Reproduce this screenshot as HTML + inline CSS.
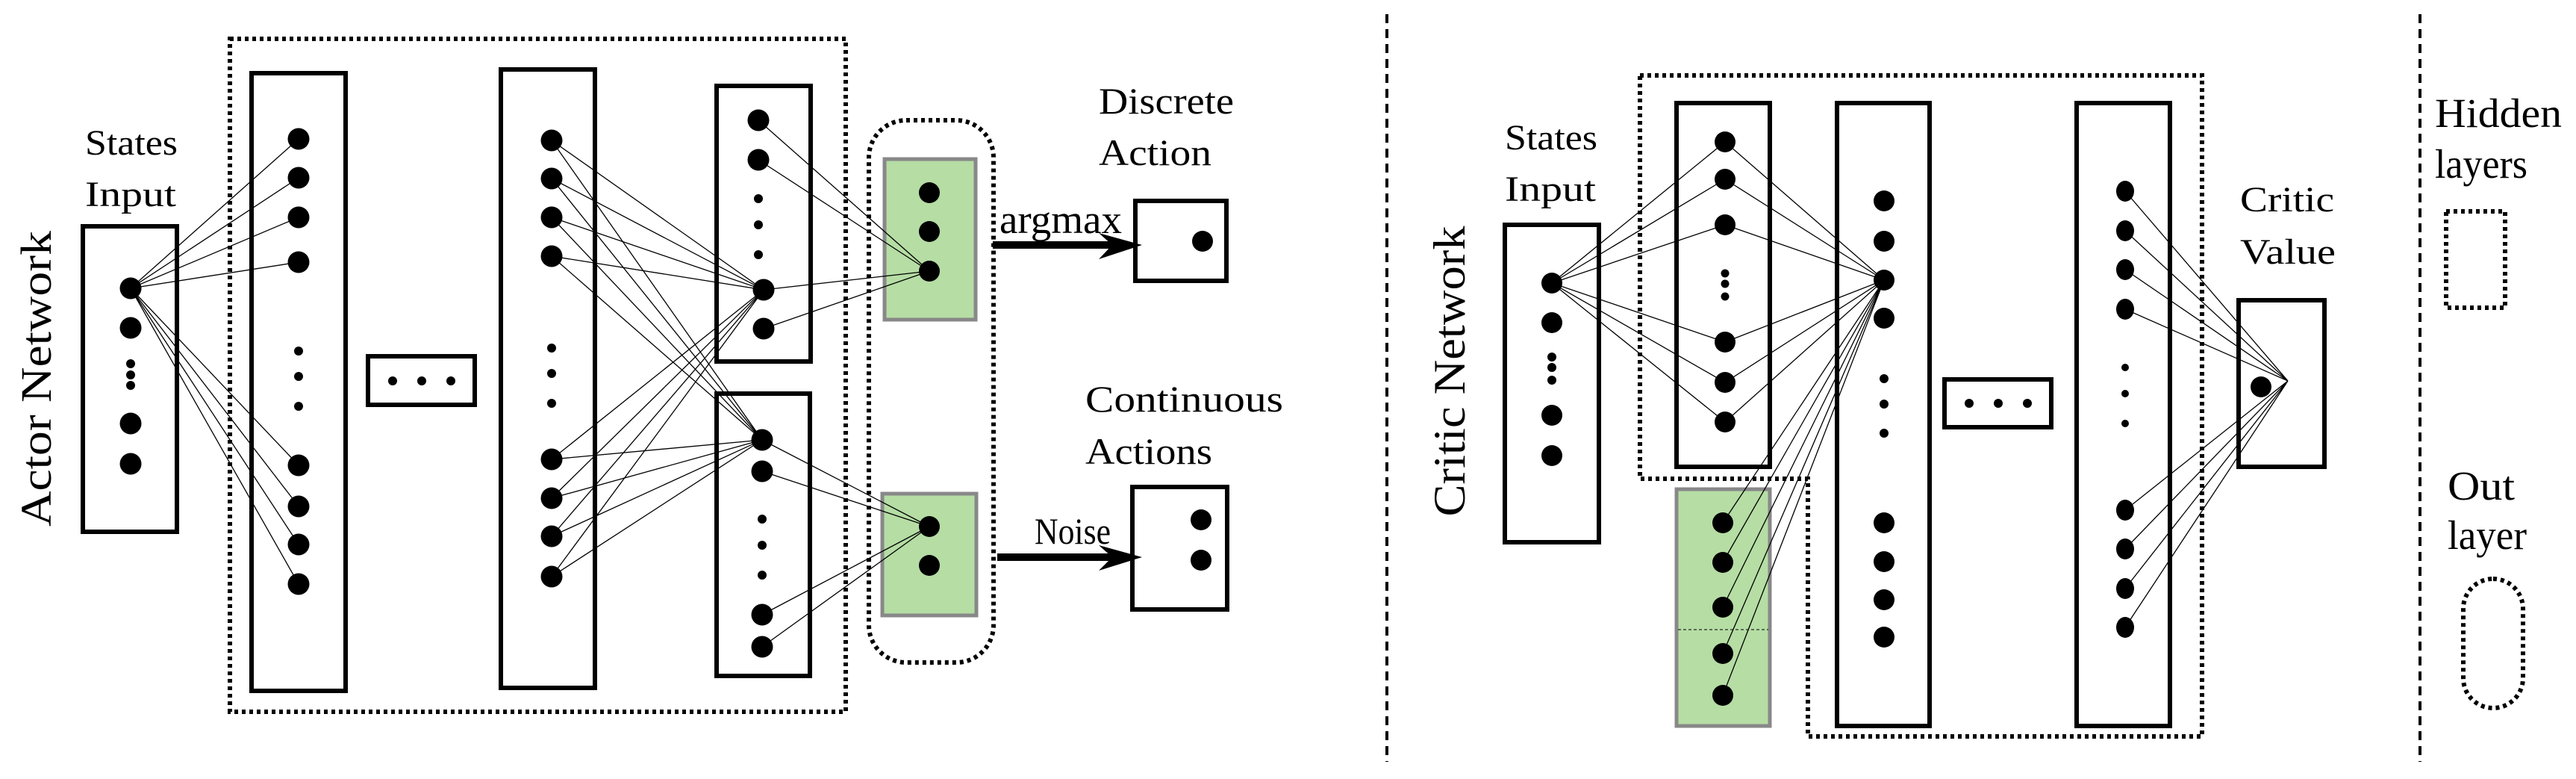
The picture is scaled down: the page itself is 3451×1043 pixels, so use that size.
<!DOCTYPE html>
<html><head><meta charset="utf-8"><style>html,body{margin:0;padding:0;background:#fff;}svg{display:block;}
svg text{font-family:"Liberation Serif","DejaVu Serif","Times New Roman",serif !important;}</style></head>
<body>
<svg xmlns="http://www.w3.org/2000/svg" width="3451" height="1043" viewBox="0 0 3451 1043" font-family="Liberation Serif, DejaVu Serif, serif">
<style>
text{fill:#000;}
.b{fill:none;stroke:#000;stroke-width:6;}
.d{fill:none;stroke:#000;stroke-width:6;stroke-dasharray:5 5;}
.g{fill:#b5dda4;stroke:#888;stroke-width:5;}
.e{stroke:#000;stroke-width:1.3;fill:none;}
</style>

<line x1="1858" y1="19" x2="1858" y2="1020" stroke="#000" stroke-width="4" stroke-dasharray="12 8"/>
<line x1="3242" y1="19" x2="3242" y2="1020" stroke="#000" stroke-width="4" stroke-dasharray="12 8"/>

<text transform="translate(68,507) rotate(-90)" font-size="58" text-anchor="middle" textLength="396" lengthAdjust="spacingAndGlyphs">Actor Network</text>
<text x="114" y="207" font-size="48" textLength="124" lengthAdjust="spacingAndGlyphs">States</text>
<text x="114" y="276" font-size="48" textLength="122" lengthAdjust="spacingAndGlyphs">Input</text>

<rect class="d" x="308" y="52" width="825" height="901"/>
<rect class="b" x="111" y="303" width="126" height="409"/>
<rect class="b" x="337" y="98" width="126" height="827"/>
<rect class="b" x="671" y="93" width="126" height="828"/>
<rect class="b" x="493" y="477" width="143" height="65"/>
<rect class="b" x="960" y="115" width="126" height="369"/>
<rect class="b" x="960" y="527" width="125" height="378"/>
<rect class="d" x="1164" y="161" width="167" height="726" rx="50" ry="50"/>
<rect class="g" x="1185" y="213" width="122" height="215"/>
<rect class="g" x="1182" y="661" width="126" height="163"/>

<g class="e">
<path d="M175 386L400 186M175 386L400 238M175 386L400 291M175 386L400 351M175 386L400 623M175 386L400 678M175 386L400 729M175 386L400 782"/>
<path d="M739 188L1023 388M739 239L1023 388M739 291L1023 388M739 343L1023 388M739 615L1023 388M739 667L1023 388M739 718L1023 388M739 772L1023 388"/>
<path d="M739 188L1021 589M739 239L1021 589M739 291L1021 589M739 343L1021 589M739 615L1021 589M739 667L1021 589M739 718L1021 589M739 772L1021 589"/>
<path d="M1016 161L1245 363M1016 214L1245 363M1023 388L1245 363M1023 440L1245 363"/>
<path d="M1021 589L1245 705M1021 631L1245 705M1021 823L1245 705M1021 866L1245 705"/>
</g>

<g fill="#000">
<circle cx="175" cy="386" r="14.5"/><circle cx="175" cy="439" r="14.5"/>
<circle cx="175" cy="487" r="6"/><circle cx="175" cy="502" r="6"/><circle cx="175" cy="516" r="6"/>
<circle cx="175" cy="567" r="14.5"/><circle cx="175" cy="621" r="14.5"/>

<circle cx="400" cy="186" r="14.5"/><circle cx="400" cy="238" r="14.5"/><circle cx="400" cy="291" r="14.5"/><circle cx="400" cy="351" r="14.5"/>
<circle cx="400" cy="470" r="6"/><circle cx="400" cy="504" r="6"/><circle cx="400" cy="544" r="6"/>
<circle cx="400" cy="623" r="14.5"/><circle cx="400" cy="678" r="14.5"/><circle cx="400" cy="729" r="14.5"/><circle cx="400" cy="782" r="14.5"/>

<circle cx="526" cy="510" r="6"/><circle cx="565" cy="510" r="6"/><circle cx="604" cy="510" r="6"/>

<circle cx="739" cy="188" r="14.5"/><circle cx="739" cy="239" r="14.5"/><circle cx="739" cy="291" r="14.5"/><circle cx="739" cy="343" r="14.5"/>
<circle cx="739" cy="466" r="6"/><circle cx="739" cy="500" r="6"/><circle cx="739" cy="540" r="6"/>
<circle cx="739" cy="615" r="14.5"/><circle cx="739" cy="667" r="14.5"/><circle cx="739" cy="718" r="14.5"/><circle cx="739" cy="772" r="14.5"/>

<circle cx="1016" cy="161" r="14.5"/><circle cx="1016" cy="214" r="14.5"/>
<circle cx="1016" cy="266" r="6"/><circle cx="1016" cy="301" r="6"/><circle cx="1016" cy="341" r="6"/>
<circle cx="1023" cy="388" r="14.5"/><circle cx="1023" cy="440" r="14.5"/>

<circle cx="1021" cy="589" r="14.5"/><circle cx="1021" cy="631" r="14.5"/>
<circle cx="1021" cy="695" r="6"/><circle cx="1021" cy="730" r="6"/><circle cx="1021" cy="770" r="6"/>
<circle cx="1021" cy="823" r="14.5"/><circle cx="1021" cy="866" r="14.5"/>

<circle cx="1245" cy="258" r="14"/><circle cx="1245" cy="310" r="14"/><circle cx="1245" cy="363" r="14"/>
<circle cx="1245" cy="705" r="14"/><circle cx="1245" cy="757" r="14"/>
</g>

<text x="1472" y="152" font-size="50" textLength="181" lengthAdjust="spacingAndGlyphs">Discrete</text>
<text x="1472" y="221" font-size="50" textLength="151" lengthAdjust="spacingAndGlyphs">Action</text>
<text x="1454" y="551" font-size="50" textLength="265" lengthAdjust="spacingAndGlyphs">Continuous</text>
<text x="1454" y="621" font-size="50" textLength="170" lengthAdjust="spacingAndGlyphs">Actions</text>

<text x="1339" y="312" font-size="54" textLength="164" lengthAdjust="spacingAndGlyphs">argmax</text>
<line x1="1330" y1="328" x2="1500" y2="328" stroke="#000" stroke-width="10"/>
<path d="M1472 312L1530 328L1472 347L1490 328Z" fill="#000"/>
<rect class="b" x="1521" y="269" width="122" height="107"/>
<circle cx="1611" cy="323" r="14" fill="#000"/>

<text x="1386" y="728" font-size="50" textLength="102" lengthAdjust="spacingAndGlyphs">Noise</text>
<line x1="1336" y1="746" x2="1500" y2="746" stroke="#000" stroke-width="10"/>
<path d="M1472 730L1530 746L1472 764L1490 746Z" fill="#000"/>
<rect class="b" x="1517" y="652" width="127" height="164"/>
<circle cx="1609" cy="696" r="14" fill="#000"/><circle cx="1609" cy="750" r="14" fill="#000"/>

<text transform="translate(1962,497) rotate(-90)" font-size="60" text-anchor="middle" textLength="389" lengthAdjust="spacingAndGlyphs">Critic Network</text>
<text x="2016" y="200" font-size="48" textLength="124" lengthAdjust="spacingAndGlyphs">States</text>
<text x="2016" y="269" font-size="48" textLength="122" lengthAdjust="spacingAndGlyphs">Input</text>

<path class="d" d="M2197 101H2950V986H2422V641H2197Z"/>
<rect class="b" x="2016" y="301" width="126" height="425"/>
<rect class="b" x="2246" y="138" width="125" height="487"/>
<rect class="g" x="2246" y="655" width="125" height="317"/>
<line x1="2248" y1="843" x2="2369" y2="843" stroke="#000" stroke-width="1" stroke-dasharray="4 3"/>
<rect class="b" x="2461" y="138" width="124" height="834"/>
<rect class="b" x="2605" y="508" width="143" height="64"/>
<rect class="b" x="2782" y="138" width="125" height="834"/>
<rect class="b" x="2999" y="402" width="115" height="223"/>

<g class="e">
<path d="M2079 379L2311 190M2079 379L2311 240M2079 379L2311 301M2079 379L2311 458M2079 379L2311 512M2079 379L2311 565"/>
<path d="M2311 190L2524 375M2311 240L2524 375M2311 301L2524 375M2311 458L2524 375M2311 512L2524 375M2311 565L2524 375"/>
<path d="M2308 700L2524 375M2308 753L2524 375M2308 813L2524 375M2308 875L2524 375M2308 931L2524 375"/>
<path d="M2847 256L3065 510M2847 309L3065 510M2847 361L3065 510M2847 414L3065 510M2847 683L3065 510M2847 735L3065 510M2847 788L3065 510M2847 840L3065 510"/>
</g>

<g fill="#000">
<circle cx="2079" cy="379" r="14"/><circle cx="2079" cy="432" r="14"/>
<circle cx="2079" cy="478" r="6"/><circle cx="2079" cy="492" r="6"/><circle cx="2079" cy="509" r="6"/>
<circle cx="2079" cy="556" r="14"/><circle cx="2079" cy="610" r="14"/>

<circle cx="2311" cy="190" r="14"/><circle cx="2311" cy="240" r="14"/><circle cx="2311" cy="301" r="14"/>
<circle cx="2311" cy="366" r="5.5"/><circle cx="2311" cy="380" r="5.5"/><circle cx="2311" cy="397" r="5.5"/>
<circle cx="2311" cy="458" r="14"/><circle cx="2311" cy="512" r="14"/><circle cx="2311" cy="565" r="14"/>

<circle cx="2308" cy="700" r="14"/><circle cx="2308" cy="753" r="14"/><circle cx="2308" cy="813" r="14"/><circle cx="2308" cy="875" r="14"/><circle cx="2308" cy="931" r="14"/>

<circle cx="2524" cy="269" r="14"/><circle cx="2524" cy="323" r="14"/><circle cx="2524" cy="375" r="14"/><circle cx="2524" cy="426" r="14"/>
<circle cx="2524" cy="507" r="6"/><circle cx="2524" cy="541" r="6"/><circle cx="2524" cy="580" r="6"/>
<circle cx="2524" cy="700" r="14"/><circle cx="2524" cy="752" r="14"/><circle cx="2524" cy="803" r="14"/><circle cx="2524" cy="853" r="14"/>

<circle cx="2638" cy="540" r="6"/><circle cx="2677" cy="540" r="6"/><circle cx="2716" cy="540" r="6"/>

<ellipse cx="2847" cy="256" rx="12" ry="14"/><ellipse cx="2847" cy="309" rx="12" ry="14"/><ellipse cx="2847" cy="361" rx="12" ry="14"/><ellipse cx="2847" cy="414" rx="12" ry="14"/>
<circle cx="2847" cy="492" r="5"/><circle cx="2847" cy="527" r="5"/><circle cx="2847" cy="567" r="5"/>
<ellipse cx="2847" cy="683" rx="12" ry="14"/><ellipse cx="2847" cy="735" rx="12" ry="14"/><ellipse cx="2847" cy="788" rx="12" ry="14"/><ellipse cx="2847" cy="840" rx="12" ry="14"/>

<circle cx="3029" cy="518" r="14"/>
</g>

<text x="3001" y="283" font-size="48" textLength="126" lengthAdjust="spacingAndGlyphs">Critic</text>
<text x="3001" y="353" font-size="48" textLength="128" lengthAdjust="spacingAndGlyphs">Value</text>

<text x="3262" y="170" font-size="55" textLength="170" lengthAdjust="spacingAndGlyphs">Hidden</text>
<text x="3262" y="238" font-size="55" textLength="124" lengthAdjust="spacingAndGlyphs">layers</text>
<rect class="d" x="3277" y="283" width="79" height="129"/>
<text x="3279" y="669" font-size="55" textLength="90" lengthAdjust="spacingAndGlyphs">Out</text>
<text x="3279" y="735" font-size="55" textLength="106" lengthAdjust="spacingAndGlyphs">layer</text>
<rect class="d" x="3300" y="775" width="80" height="173" rx="40" ry="40"/>
</svg>
</body></html>
